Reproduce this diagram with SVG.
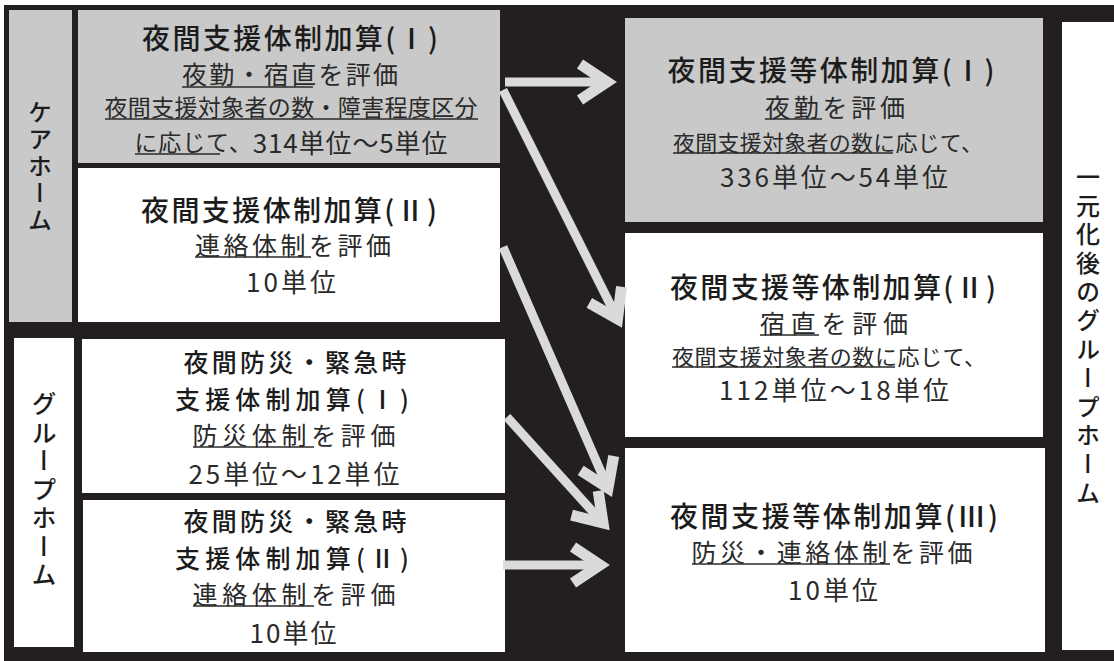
<svg xmlns="http://www.w3.org/2000/svg" width="1114" height="661" viewBox="0 0 1114 661">
<style>
text{font-family:"Noto Sans CJK JP","Noto Sans CJK SC",sans-serif;fill:#1c1c1c;text-anchor:middle;dominant-baseline:central}
.t{font-size:28px;font-weight:500}
.t2{font-size:25px;font-weight:500}
.s{font-size:25px;fill:#2a2a2a}
.n{font-size:26px;fill:#2a2a2a}
.m{font-size:22px;fill:#2a2a2a}
.v{writing-mode:vertical-rl;font-size:24px;font-weight:500}
.g{fill:#c9c9c9}
.w{fill:#ffffff}
.ul{stroke:#2a2a2a;stroke-width:1.5}
.shaft{fill:none;stroke:#dadada;stroke-width:9}
</style>
<defs>
<marker id="ah" markerUnits="userSpaceOnUse" orient="auto" overflow="visible" markerWidth="1" markerHeight="1" refX="0" refY="0">
<path d="M-27,-18 L0,0 L-27,18" fill="none" stroke="#dadada" stroke-width="11" stroke-linejoin="miter"/>
</marker>
</defs>
<rect x="4" y="5" width="1110" height="656" fill="#231f20"/>

<g id="care-home-label">
<rect class="g" x="9" y="10" width="63" height="312"/>
<text class="v" x="40" y="167" letter-spacing="3">ケアホーム</text>
</g>
<g id="group-home-label">
<rect class="w" x="14" y="338" width="60" height="309"/>
<text class="v" x="44" y="491" style="font-size:25px" letter-spacing="3.5">グループホーム</text>
</g>
<g id="unified-label">
<rect class="w" x="1062" y="22" width="52" height="628"/>
<text class="v" x="1088" y="337" letter-spacing="4.7">一元化後のグループホーム</text>
</g>

<g id="box1">
<rect class="g" x="78" y="10" width="422" height="153"/>
<text class="t" x="290" y="37" textLength="296" lengthAdjust="spacing">夜間支援体制加算(Ⅰ)</text>
<text class="s" x="290" y="73" textLength="216" lengthAdjust="spacing">夜勤・宿直を評価</text>
<line class="ul" x1="182" y1="87" x2="313" y2="87"/>
<text class="m" x="291" y="106" style="font-size:23px" textLength="373" lengthAdjust="spacing">夜間支援対象者の数・障害程度区分</text>
<line class="ul" x1="105" y1="119" x2="478" y2="119"/>
<text class="n" x="291" y="141" textLength="313" lengthAdjust="spacing"><tspan style="font-size:23px">に応じて、</tspan>314単位～5単位</text>
<line class="ul" x1="135" y1="154" x2="220" y2="154"/>
</g>
<g id="box2">
<rect class="w" x="78" y="168" width="422" height="154"/>
<text class="t" x="289" y="209" textLength="296" lengthAdjust="spacing">夜間支援体制加算(Ⅱ)</text>
<text class="s" x="293" y="244" textLength="196" lengthAdjust="spacing">連絡体制を評価</text>
<line class="ul" x1="195" y1="257" x2="311" y2="257"/>
<text class="n" x="291" y="280" textLength="90" lengthAdjust="spacing">10単位</text>
</g>
<g id="box3">
<rect class="w" x="82" y="339" width="423" height="154"/>
<text class="t2" x="295" y="361" textLength="223" lengthAdjust="spacing">夜間防災・緊急時</text>
<text class="t2" x="292" y="398" textLength="234" lengthAdjust="spacing">支援体制加算(Ⅰ)</text>
<text class="s" x="294" y="434" textLength="203" lengthAdjust="spacing">防災体制を評価</text>
<line class="ul" x1="193" y1="447" x2="314" y2="447"/>
<text class="n" x="294" y="472" textLength="211" lengthAdjust="spacing">25単位～12単位</text>
</g>
<g id="box4">
<rect class="w" x="83" y="500" width="422" height="152"/>
<text class="t2" x="295" y="520" textLength="223" lengthAdjust="spacing">夜間防災・緊急時</text>
<text class="t2" x="292" y="557" textLength="234" lengthAdjust="spacing">支援体制加算(Ⅱ)</text>
<text class="s" x="294" y="593" textLength="203" lengthAdjust="spacing">連絡体制を評価</text>
<line class="ul" x1="193" y1="606" x2="314" y2="606"/>
<text class="n" x="293" y="631" textLength="87" lengthAdjust="spacing">10単位</text>
</g>

<g id="boxA">
<rect class="g" x="625" y="18" width="418" height="204"/>
<text class="t" x="831" y="69" textLength="327" lengthAdjust="spacing">夜間支援等体制加算(Ⅰ)</text>
<text class="s" x="835" y="106" textLength="140" lengthAdjust="spacing">夜勤を評価</text>
<line class="ul" x1="765" y1="119" x2="822" y2="119"/>
<text class="m" x="828" y="141" textLength="310" lengthAdjust="spacing">夜間支援対象者の数に応じて、</text>
<line class="ul" x1="673" y1="153" x2="893" y2="153"/>
<text class="n" x="834" y="175" textLength="228" lengthAdjust="spacing">336単位～54単位</text>
</g>
<g id="boxB">
<rect class="w" x="625" y="233" width="418" height="204"/>
<text class="t" x="833" y="286" textLength="326" lengthAdjust="spacing">夜間支援等体制加算(Ⅱ)</text>
<text class="s" x="834" y="322" textLength="148" lengthAdjust="spacing">宿直を評価</text>
<line class="ul" x1="760" y1="335" x2="819" y2="335"/>
<text class="m" x="829" y="355" textLength="314" lengthAdjust="spacing">夜間支援対象者の数に応じて、</text>
<line class="ul" x1="672" y1="367" x2="895" y2="367"/>
<text class="n" x="834" y="388" textLength="230" lengthAdjust="spacing">112単位～18単位</text>
</g>
<g id="boxC">
<rect class="w" x="625" y="448" width="420" height="204"/>
<text class="t" x="834" y="515" textLength="328" lengthAdjust="spacing">夜間支援等体制加算(Ⅲ)</text>
<text class="s" x="832" y="551" textLength="281" lengthAdjust="spacing">防災・連絡体制を評価</text>
<line class="ul" x1="692" y1="564" x2="890" y2="564"/>
<text class="n" x="833" y="588" textLength="90" lengthAdjust="spacing">10単位</text>
</g>

<g id="connectors">
<path class="shaft" d="M505,82 L607,82" marker-end="url(#ah)"/>
<path class="shaft" d="M503,90 L617.5,319" marker-end="url(#ah)"/>
<path class="shaft" d="M503,247 L608,488" marker-end="url(#ah)"/>
<path class="shaft" d="M507,417 L603,523" marker-end="url(#ah)"/>
<path class="shaft" d="M503,565 L600,565" marker-end="url(#ah)"/>
</g>
</svg>
